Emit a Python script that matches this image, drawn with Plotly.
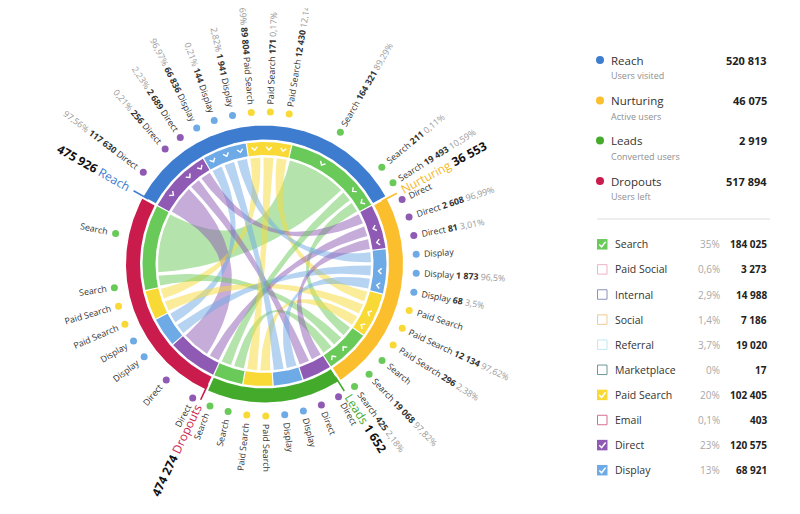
import math
import numpy as np
import plotly.graph_objects as go

W, H = 800, 514
PAGE_MARGIN = 8  # default body margin of the html page
CX, CY = 264.5, 264.0

# ---------------- data ----------------
stages = ["Reach", "Nurturing", "Leads", "Dropouts"]
stage_colors = ["#3d7ccf", "#fbbf2e", "#43aa2b", "#c91c4c"]
stage_text_colors = ["#3d7ccf", "#f5b72a", "#43aa2b", "#c91c4c"]
stage_subtitles = ["Users visited", "Active users", "Converted users", "Users left"]
stage_legend_values = [520813, 46075, 2919, 517894]

channels = ["Direct", "Display", "Paid Search", "Search"]
channel_colors = ["#8e5ab4", "#6eaae5", "#f8d936", "#69ca5a"]

# flows per channel, in the order of `channels`
reach_to_dropouts = [117630, 66836, 89804, 164321]
reach_to_leads = [256, 144, 171, 211]
reach_to_nurturing = [2689, 1941, 12430, 19493]
nurturing_to_dropouts = [2608, 1873, 12134, 19068]
nurturing_to_leads = [81, 68, 296, 425]

flows = [  # (source stage, target stage, values)
    (0, 3, reach_to_dropouts),
    (0, 2, reach_to_leads),
    (0, 1, reach_to_nurturing),
    (1, 3, nurturing_to_dropouts),
    (1, 2, nurturing_to_leads),
]

legend_channels = ["Search", "Paid Social", "Internal", "Social", "Referral",
                   "Marketplace", "Paid Search", "Email", "Direct", "Display"]
legend_pcts = ["35%", "0,6%", "2,9%", "1,4%", "3,7%", "0%", "20%", "0,1%", "23%", "13%"]
legend_values = [184025, 3273, 14988, 7186, 19020, 17, 102405, 403, 120575, 68921]
legend_checked = [True, False, False, False, False, False, True, False, True, True]
legend_box_colors = ["#69ca5a", "#f0b3c6", "#8a91bd", "#f1cb95", "#bfe9ef",
                     "#6c9898", "#f8d936", "#d4708e", "#8e5ab4", "#6eaae5"]

# ---------------- layout parameters ----------------
START_DEG = -61.4
BIG_OFFSET = 70939.0
BIG_UNIT = 19684.0
R_RIB = 106.5
R_IN0, R_IN1 = 109.0, 122.0
R_OUT0, R_OUT1 = 124.5, 138.5
R_DOT = 152.0
R_TEXT = 159.0
FONT = "Open Sans"
LABEL_SIZE = 8.8


def weight(v):
    return max(1.0, (v - BIG_OFFSET) / BIG_UNIT)


def fmt_int(v):
    return f"{v:,}".replace(",", " ")


def fmt_pct(p):
    s = f"{p:.2f}".rstrip("0").rstrip(".")
    return s.replace(".", ",") + "%"


def pt(theta, r):
    t = math.radians(theta)
    return CX + r * math.sin(t), CY - r * math.cos(t)


def arc(a0, a1, r, step=0.5):
    n = max(3, int(abs(a1 - a0) / step) + 1)
    th = np.radians(np.linspace(a0, a1, n))
    return list(CX + r * np.sin(th)), list(CY - r * np.cos(th))


def band(a0, a1, r0, r1):
    x1, y1 = arc(a0, a1, r1)
    x0, y0 = arc(a1, a0, r0)
    return x1 + x0 + [x1[0]], y1 + y0 + [y1[0]]


def bez(p0, p2, n=40):
    t = np.linspace(0, 1, n)
    xs = (1 - t) ** 2 * p0[0] + 2 * (1 - t) * t * CX + t ** 2 * p2[0]
    ys = (1 - t) ** 2 * p0[1] + 2 * (1 - t) * t * CY + t ** 2 * p2[1]
    return list(xs), list(ys)


CHAR_W = {" ": 0.26, ",": 0.25, "%": 0.82, "i": 0.26, "l": 0.26, "t": 0.35,
          "r": 0.41, "s": 0.48, "c": 0.48, "y": 0.5, "a": 0.56, "e": 0.56,
          "h": 0.61, "p": 0.61, "d": 0.61, "n": 0.61, "u": 0.61, "g": 0.55,
          "o": 0.6, "D": 0.72, "P": 0.6, "S": 0.55, "R": 0.62, "N": 0.74,
          "L": 0.52}


def text_w(s, size):
    return sum(CHAR_W.get(ch, 0.57) for ch in s) * size


def rgba(hexc, a):
    h = hexc.lstrip("#")
    return f"rgba({int(h[0:2],16)},{int(h[2:4],16)},{int(h[4:6],16)},{a})"


# ---------------- sub-arc layout ----------------
subarcs = []
for s in range(4):
    for c in range(4):
        for k in (1, 2, 3):
            p = (s - k) % 4
            for fi, (a, b, vals) in enumerate(flows):
                if (a == s and b == p) or (a == p and b == s):
                    subarcs.append(dict(stage=s, ch=c, partner=p, value=vals[c],
                                        out=(a == s), flow=fi))
total_w = sum(weight(sa["value"]) for sa in subarcs)
dpw = 360.0 / total_w
ang = START_DEG
for sa in subarcs:
    sa["a0"] = ang
    ang += weight(sa["value"]) * dpw
    sa["a1"] = ang

out_tot = [[0] * 4 for _ in range(4)]
stage_tot = [0] * 4
for a, b, vals in flows:
    for c in range(4):
        out_tot[a][c] += vals[c]
        stage_tot[a] += vals[c]
for s in range(4):
    if stage_tot[s] == 0:
        stage_tot[s] = sum(sa["value"] for sa in subarcs if sa["stage"] == s)

fig = go.Figure()

# ---------------- ribbons ----------------
ribbons = []
for fi, (a, b, vals) in enumerate(flows):
    for c in range(4):
        src = [sa for sa in subarcs if sa["flow"] == fi and sa["ch"] == c and sa["stage"] == a][0]
        tgt = [sa for sa in subarcs if sa["flow"] == fi and sa["ch"] == c and sa["stage"] == b][0]
        ribbons.append((vals[c], c, src, tgt))
ribbons.sort(key=lambda r: -r[0])
PAD = 0.9
for v, c, src, tgt in ribbons:
    s0, s1 = src["a0"] + PAD, src["a1"] - PAD
    t0, t1 = tgt["a0"] + PAD, tgt["a1"] - PAD
    xa, ya = arc(s0, s1, R_RIB)
    xb1, yb1 = bez(pt(s1, R_RIB), pt(t0, R_RIB))
    xt, yt = arc(t0, t1, R_RIB)
    xb2, yb2 = bez(pt(t1, R_RIB), pt(s0, R_RIB))
    fig.add_trace(go.Scatter(x=xa + xb1 + xt + xb2, y=ya + yb1 + yt + yb2, mode="lines",
                             fill="toself", fillcolor=rgba(channel_colors[c], 0.5),
                             line=dict(width=0), hoverinfo="skip", showlegend=False))

# ---------------- rings ----------------
for s in range(4):
    arcs_s = [sa for sa in subarcs if sa["stage"] == s]
    a0, a1 = arcs_s[0]["a0"], arcs_s[-1]["a1"]
    x, y = band(a0 + 0.55, a1 - 0.55, R_OUT0, R_OUT1)
    fig.add_trace(go.Scatter(x=x, y=y, mode="lines", fill="toself",
                             fillcolor=stage_colors[s], line=dict(width=0),
                             hoverinfo="skip", showlegend=False))
    for c in range(4):
        seg = [sa for sa in arcs_s if sa["ch"] == c]
        b0, b1 = seg[0]["a0"], seg[-1]["a1"]
        x, y = band(b0 + 0.3, b1 - 0.3, R_IN0, R_IN1)
        fig.add_trace(go.Scatter(x=x, y=y, mode="lines", fill="toself",
                                 fillcolor=channel_colors[c], line=dict(width=0),
                                 hoverinfo="skip", showlegend=False))

# chevrons on outgoing sub-arcs
cx_, cy_ = [], []
for sa in subarcs:
    if sa["out"]:
        m = (sa["a0"] + sa["a1"]) / 2
        d = math.degrees(2.8 / 115.5)
        for p in (pt(m - d, 117.3), pt(m, 114.2), pt(m + d, 117.3)):
            cx_.append(p[0]); cy_.append(p[1])
        cx_.append(None); cy_.append(None)
fig.add_trace(go.Scatter(x=cx_, y=cy_, mode="lines", line=dict(color="white", width=1.4),
                         hoverinfo="skip", showlegend=False))

# ---------------- sub-arc labels ----------------
annotations = []
dx, dy, dc = [], [], []
for sa in subarcs:
    m = (sa["a0"] + sa["a1"]) / 2
    th = m % 360
    px, py = pt(th, R_DOT)
    dx.append(px); dy.append(py); dc.append(channel_colors[sa["ch"]])
    name = channels[sa["ch"]]
    if sa["out"]:
        val = fmt_int(sa["value"])
        pct = fmt_pct(100.0 * sa["value"] / out_tot[sa["stage"]][sa["ch"]])
        plain = f"{name} {val} {pct}"
        if th < 180:
            txt = f"{name} <b>{val}</b> <span style='color:#9a9a9a'>{pct}</span>"
        else:
            txt = f"<span style='color:#9a9a9a'>{pct}</span> <b>{val}</b> {name}"
    else:
        plain = name
        txt = name
    w = text_w(plain, LABEL_SIZE) + 2
    tx, ty = pt(th, R_TEXT + w / 2)
    tang = th - 90 if th < 180 else th - 270
    annotations.append(dict(x=tx, y=ty, xref="x", yref="y", text=txt, showarrow=False,
                            textangle=tang, xanchor="center", yanchor="middle",
                            font=dict(family=FONT, size=LABEL_SIZE, color="#333333")))
fig.add_trace(go.Scatter(x=dx, y=dy, mode="markers",
                         marker=dict(size=7, color=dc, line=dict(width=0)),
                         hoverinfo="skip", showlegend=False))

# ---------------- stage labels ----------------
for s in range(4):
    a0 = [sa for sa in subarcs if sa["stage"] == s][0]["a0"] % 360
    val = fmt_int(stage_tot[s])
    name = stages[s]
    col = stage_text_colors[s]
    if a0 < 180:
        th = a0 + 0.4
        txt = f"<span style='color:{col}'>{name}</span> <b>{val}</b>"
        tang = th - 90
    else:
        th = a0 + 0.8
        txt = f"<b>{val}</b> <span style='color:{col}'>{name}</span>"
        tang = th - 270
    size = 12
    w = text_w(f"{name} {val}", size) + 4
    tx, ty = pt(th, 154 + w / 2)
    annotations.append(dict(x=tx, y=ty, xref="x", yref="y", text=txt, showarrow=False,
                            textangle=tang, xanchor="center", yanchor="middle",
                            font=dict(family=FONT, size=size, color="#111111")))
    p0, p1 = pt(a0 + 0.6, 133), pt(a0 + 0.6, 150)
    fig.add_trace(go.Scatter(x=[p0[0], p1[0]], y=[p0[1], p1[1]], mode="lines",
                             line=dict(color=stage_colors[s], width=1.6),
                             hoverinfo="skip", showlegend=False))

# ---------------- legend panel ----------------
LX_DOT, LX_TXT, LX_VAL, LX_PCT = 600, 609, 769, 722
stage_rows_y = [60, 100.5, 140.5, 181]
fig.add_trace(go.Scatter(x=[LX_DOT] * 4, y=stage_rows_y, mode="markers",
                         marker=dict(size=8, color=stage_colors), hoverinfo="skip",
                         showlegend=False))
for s in range(4):
    yy = stage_rows_y[s]
    annotations.append(dict(x=LX_TXT, y=yy, xref="x", yref="y", text=stages[s],
                            showarrow=False, xanchor="left", yanchor="middle",
                            font=dict(family=FONT, size=11.5, color="#333333")))
    annotations.append(dict(x=LX_TXT, y=yy + 15.5, xref="x", yref="y", text=stage_subtitles[s],
                            showarrow=False, xanchor="left", yanchor="middle",
                            font=dict(family=FONT, size=9, color="#8f8f8f")))
    annotations.append(dict(x=LX_VAL, y=yy, xref="x", yref="y",
                            text=f"<b>{fmt_int(stage_legend_values[s])}</b>",
                            showarrow=False, xanchor="right", yanchor="middle",
                            font=dict(family=FONT, size=11, color="#222222")))

shapes = [dict(type="line", xref="x", yref="y", x0=597, x1=770, y0=219, y1=219,
               line=dict(color="#dddddd", width=1), layer="below")]
chk_x, chk_y = [], []
for i, name in enumerate(legend_channels):
    yy = 244.3 + i * 25.1
    col = legend_box_colors[i]
    if legend_checked[i]:
        shapes.append(dict(type="rect", xref="x", yref="y", x0=597, x1=607.5,
                           y0=yy - 5.25, y1=yy + 5.25, fillcolor=col, line=dict(width=0),
                           layer="below"))
        for p in ((599.3, yy + 0.2), (601.6, yy + 2.6), (605.6, yy - 2.6)):
            chk_x.append(p[0]); chk_y.append(p[1])
        chk_x.append(None); chk_y.append(None)
    else:
        shapes.append(dict(type="rect", xref="x", yref="y", x0=597.5, x1=607,
                           y0=yy - 4.75, y1=yy + 4.75, fillcolor="white",
                           line=dict(color=col, width=1), layer="below"))
    annotations.append(dict(x=613, y=yy, xref="x", yref="y", text=name, showarrow=False,
                            xanchor="left", yanchor="middle",
                            font=dict(family=FONT, size=10.5, color="#333333")))
    annotations.append(dict(x=LX_PCT, y=yy, xref="x", yref="y", text=legend_pcts[i],
                            showarrow=False, xanchor="right", yanchor="middle",
                            font=dict(family=FONT, size=10, color="#a8a8a8")))
    annotations.append(dict(x=LX_VAL, y=yy, xref="x", yref="y",
                            text=f"<b>{fmt_int(legend_values[i])}</b>", showarrow=False,
                            xanchor="right", yanchor="middle",
                            font=dict(family=FONT, size=10, color="#222222")))
fig.add_trace(go.Scatter(x=chk_x, y=chk_y, mode="lines", line=dict(color="white", width=1.5),
                         hoverinfo="skip", showlegend=False))

# the figure starts PAGE_MARGIN px into the page; axis ranges map data units to page pixels
fig.update_layout(
    width=W - PAGE_MARGIN, height=H - PAGE_MARGIN, margin=dict(l=0, r=0, t=0, b=0),
    paper_bgcolor="white", plot_bgcolor="rgba(0,0,0,0)",
    xaxis=dict(range=[PAGE_MARGIN, W], visible=False, fixedrange=True),
    yaxis=dict(range=[H, PAGE_MARGIN], visible=False, fixedrange=True),
    annotations=annotations, shapes=shapes, showlegend=False,
    font=dict(family=FONT),
)
fig.write_html("out.html")
